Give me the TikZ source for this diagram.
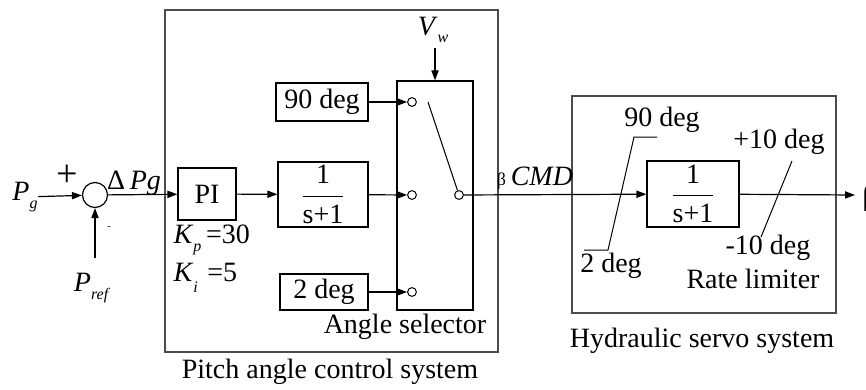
\documentclass[tikz,border=0pt]{standalone}
\usepackage{fontspec}
\setmainfont{Liberation Serif}
\usepackage{amsmath}
\usetikzlibrary{arrows.meta,positioning}
\tikzset{
  >={Triangle[length=5pt,width=3.6pt]},
  blk/.style={draw, line width=0.6pt, inner sep=0pt},
  contact/.style={draw, circle, line width=0.5pt, minimum size=4.4pt, inner sep=0pt},
  lbl/.style={inner sep=0pt}
}
\newcommand{\symb}[2]{\textit{#1}\raisebox{-0.6ex}{\footnotesize\textit{#2}}}
\newcommand{\tfone}{$\dfrac{\text{1}}{\text{s+1}}$}

\begin{document}
\begin{tikzpicture}[x=0.5pt, y=-0.5pt, line width=0.6pt, font=\fontsize{14}{16}\selectfont]
\useasboundingbox (0,0) rectangle (866,390);

% Summing junction
\node[lbl] (pg) at (25,197) {\symb{P}{g}};
\node[draw, circle, minimum size=12.5pt, inner sep=0pt] (sum) at (95,195) {};
\node[lbl] at (67,176) {\fontsize{19}{20}\selectfont +};
\node[lbl] at (109,228) {\tiny -};
\node[lbl] (pref) at (92,288) {\symb{P}{ref}};
\coordinate (prefin) at (95,258);
\node[lbl] (dp) at (134,183) {Δ\,\textit{Pg}};

% Pitch angle control system
\draw[gray!60!black] (165,10) rectangle (498,352);
\node[blk, minimum width=29pt, minimum height=26pt] (pi) at (207,194) {PI};
\node[blk, minimum width=45pt, minimum height=32.5pt] (tf1) at (323,194.5) {\tfone};
\node[blk, minimum width=46pt, minimum height=19pt] (d90) at (322,102) {90 deg};
\node[blk, minimum width=44pt, minimum height=18pt] (d2) at (324,292) {2 deg};
\node[lbl, anchor=west] (kp) at (173,240) {\symb{K}{p}\,=30};
\node[lbl, anchor=west] (ki) at (173,278) {\textit{K}\raisebox{-0.9ex}{\footnotesize\textit{i}}\,\,=5};

% Angle selector
\node[blk, minimum width=38pt, minimum height=114.5pt] (sel) at (435,195.5) {};
\node[contact] (c1) at (412,102) {};
\node[contact] (c2) at (412,195) {};
\node[contact] (c3) at (412,292) {};
\node[contact] (co) at (459,195) {};
\coordinate (blade) at (428,102);
\node[lbl] (vw) at (433,30) {\symb{V}{w}};
\coordinate (vwin) at (435,48);
\node[lbl] at (405,327) {Angle selector};
\node[lbl] at (330,372) {Pitch angle control system};

% Hydraulic servo system
\draw[gray!60!black] (572,96) rectangle (836,313);
\node[blk, minimum width=46pt, minimum height=33pt] (tf2) at (693,194) {\tfone};
\node[lbl] (bcmd) at (535,178) {{\small β}\,\textit{CMD}};
\coordinate (out) at (855,195);
\node[lbl, anchor=west] (beta) at (862,199) {β};
\node[lbl] at (662,120) {90 deg};
\node[lbl] at (611,266) {2 deg};
\node[lbl] at (779,142) {+10 deg};
\node[lbl] at (768,248) {-10 deg};
\node[lbl] at (753,279) {Rate limiter};
\node[lbl] at (702,341) {Hydraulic servo system};

% Limiter marks
\draw[line width=0.5pt] (657,137) -- (634,137) -- (608,250) -- (584,250);
\draw[line width=0.5pt] (792,161) -- (761,237);

% Arrows
\draw[->] (pg) -- (sum);
\draw[->] (prefin) -- (sum);
\draw[->] (sum) -- (pi);
\draw[->] (pi) -- (tf1);
\draw[->] (d90) -- (c1);
\draw[->] (tf1) -- (c2);
\draw[->] (d2) -- (c3);
\draw[->] (vwin) -- (sel.north);
\draw[line width=0.5pt] (blade) -- (co);
\draw[->] (co) -- (tf2);
\draw[->] (tf2) -- (out);
\end{tikzpicture}
\end{document}
